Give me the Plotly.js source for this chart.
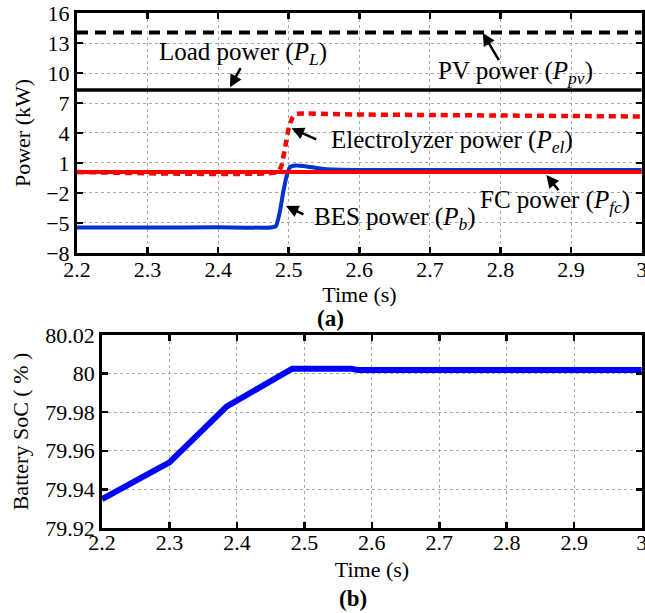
<!DOCTYPE html>
<html>
<head>
<meta charset="utf-8">
<script src="https://cdn.plot.ly/plotly-3.0.1.min.js"></script>
<style>html,body{margin:0;padding:0;background:#fff;}#chart{width:645px;height:613px;}</style>
</head>
<body>
<div id="chart"></div>
<script>
// ---- data ----
const tPV = [2.2, 2.4, 2.6, 2.8, 3.0];
const pvPower = [14.05, 14.05, 14.05, 14.05, 14.05];

const tLoad = [2.2, 2.4, 2.6, 2.65, 2.7, 2.8, 3.0];
const loadPower = [8.3, 8.3, 8.3, 8.25, 8.3, 8.3, 8.3];

const tEl = [2.2, 2.485, 2.49, 2.495, 2.5, 2.505, 2.51, 2.52, 2.6, 2.7, 2.8, 2.9, 3.0];
const elPower = [0.1, 0.1, 0.8, 2.6, 4.5, 5.5, 5.9, 5.95, 5.85, 5.8, 5.75, 5.7, 5.65];

const tFC = [2.2, 2.6, 3.0];
const fcPower = [0.1, 0.1, 0.1];

const tBES = [2.2, 2.3, 2.4, 2.475, 2.482, 2.487, 2.492, 2.497, 2.502, 2.51, 2.52, 2.53, 2.55, 2.6, 3.0];
const besPower = [-5.45, -5.45, -5.43, -5.45, -5.3, -4.0, -2.0, -0.3, 0.6, 0.75, 0.7, 0.6, 0.4, 0.3, 0.3];

const tSoC = [2.2, 2.3, 2.385, 2.482, 2.57, 2.58, 3.0];
const socVals = [79.935, 79.954, 79.983, 80.0025, 80.0025, 80.0018, 80.0018];

const xTicks = [2.2, 2.3, 2.4, 2.5, 2.6, 2.7, 2.8, 2.9, 3.0];
const xTickText = ['2.2', '2.3', '2.4', '2.5', '2.6', '2.7', '2.8', '2.9', '3'];
const yTicksA = [-8, -5, -2, 1, 4, 7, 10, 13, 16];
const yTicksB = [79.92, 79.94, 79.96, 79.98, 80, 80.02];
const yTickTextB = ['79.92', '79.94', '79.96', '79.98', '80', '80.02'];

// ---- chart ----
const FONT = 'Liberation Serif';

const traces = [
  {x: tPV, y: pvPower, xaxis: 'x', yaxis: 'y', mode: 'lines', line: {color: '#000', width: 4, dash: '11px,7px'}},
  {x: tLoad, y: loadPower, xaxis: 'x', yaxis: 'y', mode: 'lines', line: {color: '#000', width: 3.5}},
  {x: tBES, y: besPower, xaxis: 'x', yaxis: 'y', mode: 'lines', line: {color: '#0033cc', width: 4, shape: 'spline', smoothing: 0.4}},
  {x: tFC, y: fcPower, xaxis: 'x', yaxis: 'y', mode: 'lines', line: {color: '#ff0000', width: 4}},
  {x: tEl, y: elPower, xaxis: 'x', yaxis: 'y', mode: 'lines', line: {color: '#ff0000', width: 4.5, dash: '7px,5px', shape: 'spline', smoothing: 0.4}},
  {x: tSoC, y: socVals, xaxis: 'x2', yaxis: 'y2', mode: 'lines', line: {color: '#0000ff', width: 6}}
];

const axisCommon = {
  showline: true, linecolor: '#000', linewidth: 3, mirror: 'ticks',
  ticks: 'inside', ticklen: 6, tickwidth: 2.5, tickcolor: '#000',
  showgrid: true, gridcolor: '#a8a8a8', griddash: 'dot', gridwidth: 1,
  zeroline: false, ticklabeloverflow: 'allow',
  tickfont: {family: FONT, size: 22, color: '#000'}
};

function arrow(xh, yh, xt, yt, xref, yref) {
  return {x: xh, y: yh, ax: xt, ay: yt, xref: xref, yref: yref, axref: xref, ayref: yref,
    text: '', showarrow: true, arrowhead: 2, arrowsize: 1, arrowwidth: 2.5, arrowcolor: '#000'};
}
function label(txt, x, y) {
  return {x: x, y: y, xref: 'x', yref: 'y', text: txt, showarrow: false,
    xanchor: 'center', yanchor: 'middle',
    font: {family: FONT, size: 25, color: '#000'}};
}

const layout = {
  width: 645, height: 613,
  margin: {l: 77, r: 3, t: 13, b: 85},
  paper_bgcolor: '#fff', plot_bgcolor: '#fff',
  showlegend: false,
  font: {family: FONT, color: '#000'},
  xaxis: Object.assign({}, axisCommon, {
    domain: [0, 1], anchor: 'y', range: [2.2, 3.0005], tickvals: xTicks, ticktext: xTickText,
    ticklabelstandoff: -5,
    title: {text: 'Time (s)', font: {family: FONT, size: 22, color: '#000'}, standoff: 0}
  }),
  yaxis: Object.assign({}, axisCommon, {
    domain: [0.534, 1], anchor: 'x', range: [-8, 16], tickvals: yTicksA,
    title: {text: 'Power (kW)', font: {family: FONT, size: 22, color: '#000'}, standoff: 10}
  }),
  xaxis2: Object.assign({}, axisCommon, {
    domain: [0.0443, 1], anchor: 'y2', range: [2.2, 3.0005], tickvals: xTicks, ticktext: xTickText,
    ticklabelstandoff: -7,
    title: {text: 'Time (s)', font: {family: FONT, size: 22, color: '#000'}, standoff: 8}
  }),
  yaxis2: Object.assign({}, axisCommon, {
    domain: [0, 0.3748], anchor: 'x2', range: [79.92, 80.02], tickvals: yTicksB, ticktext: yTickTextB,
    title: {text: 'Battery SoC ( % )', font: {family: FONT, size: 22, color: '#000'}, standoff: 11}
  }),
  annotations: [
    label('Load power (<i>P</i><sub><i>L</i></sub>)', 2.435, 12.0),
    label('PV power (<i>P</i><sub><i>pv</i></sub>)', 2.821, 10.1),
    label('Electrolyzer power (<i>P</i><sub><i>el</i></sub>)', 2.732, 3.1),
    label('FC power (<i>P</i><sub><i>fc</i></sub>)', 2.8775, -2.9),
    label('BES power (<i>P</i><sub><i>b</i></sub>)', 2.650, -4.55),
    arrow(2.4166, 8.57, 2.433, 10.63, 'x', 'y'),
    arrow(2.775, 14.0, 2.799, 11.13, 'x', 'y'),
    arrow(2.504, 4.47, 2.541, 3.3, 'x', 'y'),
    arrow(2.865, -0.2, 2.884, -1.87, 'x', 'y'),
    arrow(2.496, -3.3, 2.523, -4.2, 'x', 'y'),
    {x: (330 - 77) / 565, y: (528 - 318) / 515, xref: 'paper', yref: 'paper', showarrow: false,
      xanchor: 'center', yanchor: 'middle',
      text: '<b>(a)</b>', font: {family: FONT, size: 23, color: '#000'}},
    {x: (353 - 77) / 565, y: (528 - 598) / 515, xref: 'paper', yref: 'paper', showarrow: false,
      xanchor: 'center', yanchor: 'middle',
      text: '<b>(b)</b>', font: {family: FONT, size: 23, color: '#000'}}
  ]
};

Plotly.newPlot('chart', traces, layout, {staticPlot: true, displayModeBar: false});
</script>
</body>
</html>
